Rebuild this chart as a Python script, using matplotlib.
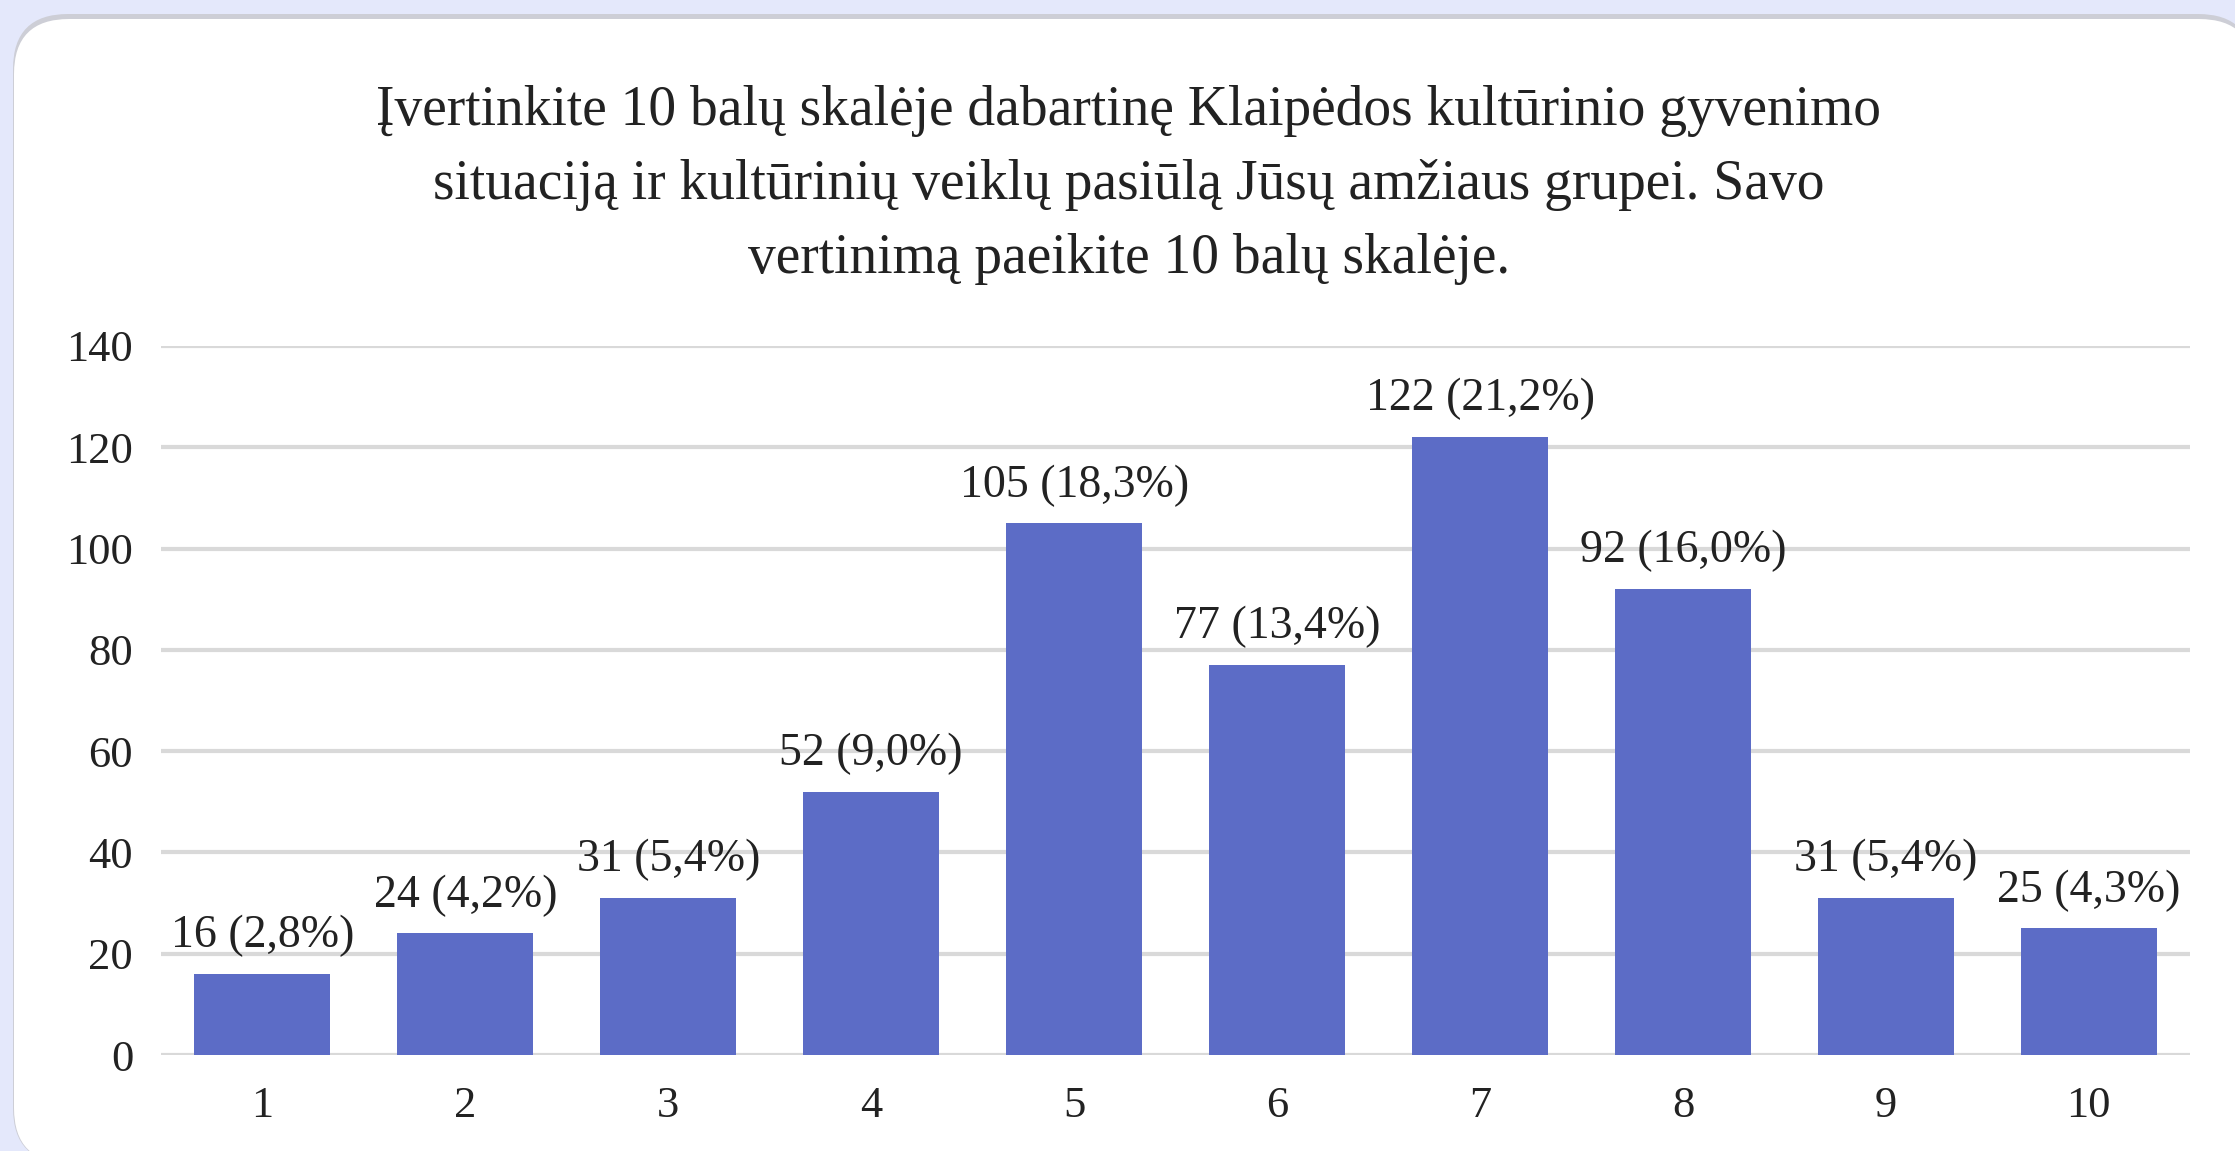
import matplotlib.pyplot as plt
from matplotlib.patches import FancyBboxPatch

# duomenys
balai = ['1', '2', '3', '4', '5', '6', '7', '8', '9', '10']
kiekiai = [16, 24, 31, 52, 105, 77, 122, 92, 31, 25]
procentai = ['2,8', '4,2', '5,4', '9,0', '18,3', '13,4', '21,2', '16,0', '5,4', '4,3']
y_ticks = [0, 20, 40, 60, 80, 100, 120, 140]

pavadinimas = ("Įvertinkite 10 balų skalėje dabartinę Klaipėdos kultūrinio gyvenimo\n"
               "situaciją ir kultūrinių veiklų pasiūlą Jūsų amžiaus grupei. Savo\n"
               "vertinimą paeikite 10 balų skalėje.")

plt.rcParams['font.family'] = ['Liberation Serif', 'DejaVu Serif']

fig = plt.figure(figsize=(22.35, 11.51), dpi=100)
fig.patch.set_facecolor('#e4e8fb')

# balta kortele su apvaliais kampais (pikseliais)
seselis = FancyBboxPatch((13, -12), 2240, 1149, boxstyle="round,pad=0,rounding_size=55",
                         transform=None, facecolor='#cdced6', edgecolor='none', zorder=0)
kortele = FancyBboxPatch((14, -12), 2240, 1144, boxstyle="round,pad=0,rounding_size=55",
                         transform=None, facecolor='white', edgecolor='none', zorder=0)
fig.patches.append(seselis)
fig.patches.append(kortele)

ax = fig.add_axes([0.072, 0.0834, 0.908, 0.616])
ax.set_zorder(2)
ax.set_facecolor('none')

x = list(range(len(balai)))
ax.bar(x, kiekiai, width=0.67, color='#5c6cc6', zorder=3)

for i, (k, p) in enumerate(zip(kiekiai, procentai)):
    ax.annotate(f"{k} ({p}%)", (i, k), xytext=(0, 12), textcoords='offset points',
                ha='center', va='bottom', fontsize=33, color='#222222')

ax.set_xlim(-0.5, len(balai) - 0.5)
ax.set_ylim(0, 140)
ax.set_yticks(y_ticks)
ax.set_xticks(x)
ax.set_xticklabels(balai)
ax.tick_params(axis='both', length=0, labelsize=32, colors='#222222')
ax.tick_params(axis='y', pad=20)
ax.tick_params(axis='x', pad=22)
ax.grid(axis='y', color='#d9d9d9', linewidth=3, zorder=0)
for s in ax.spines.values():
    s.set_visible(False)

fig.text(0.505, 0.839, pavadinimas, ha='center', va='center', multialignment='center',
         fontsize=40, linespacing=1.55, color='#222222', zorder=3)

fig.savefig('out.png', dpi=100, facecolor=fig.get_facecolor())
